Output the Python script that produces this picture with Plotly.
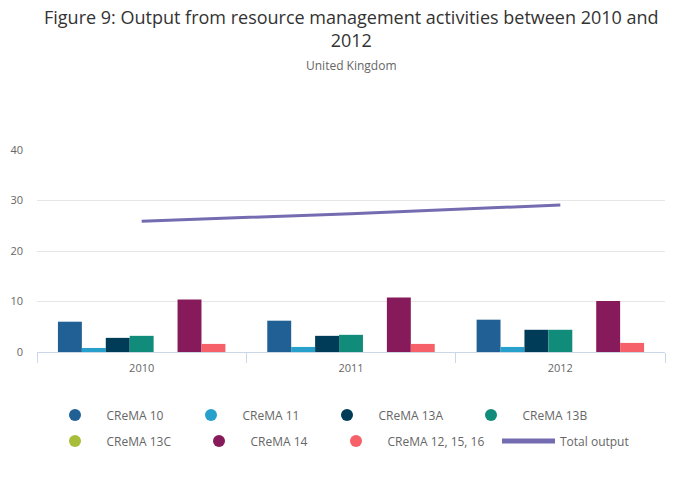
import plotly.graph_objects as go

years = ["2010", "2011", "2012"]
series_names = ["CReMA 10", "CReMA 11", "CReMA 13A", "CReMA 13B", "CReMA 13C", "CReMA 14", "CReMA 12, 15, 16"]
crema_10 = [6.0, 6.2, 6.4]
crema_11 = [0.8, 1.0, 1.0]
crema_13a = [2.8, 3.2, 4.4]
crema_13b = [3.2, 3.4, 4.4]
crema_13c = [None, None, None]
crema_14 = [10.4, 10.8, 10.1]
crema_12_15_16 = [1.6, 1.6, 1.8]
total_output = [25.9, 27.4, 29.1]

colors = ["#206095", "#27a0cc", "#003c57", "#118c7b", "#a8bd3a", "#871a5b", "#f66068"]
line_color = "#746cb1"

series_values = [crema_10, crema_11, crema_13a, crema_13b, crema_13c, crema_14, crema_12_15_16]

W, H = 692, 494          # page body has an 8px margin; keep the figure inside the window
OFF = 8

# legend item positions (page pixels): marker centre x, row y
legend_marker_x = [75, 211, 347, 491, 75, 219, 356]
legend_row_y = [415, 415, 415, 415, 441, 441, 441]
line_text_x, line_row_y = 560, 441
ITEMW = 53

fig = go.Figure()

legend_layouts = {}
for i, (name, col) in enumerate(zip(series_names, colors)):
    key = "legend" if i == 0 else f"legend{i + 1}"
    fig.add_trace(go.Scatter(x=[None], y=[None], mode="markers", name=name,
                             legend=key,
                             marker=dict(symbol="circle", size=11, color=col),
                             hoverinfo="skip"))
    lx = legend_marker_x[i] - OFF - (ITEMW + 10) / 2
    ly = legend_row_y[i] - OFF
    legend_layouts[key] = (lx, ly)

for name, vals, col in zip(series_names, series_values, colors):
    fig.add_trace(go.Bar(x=years, y=vals, name=name, marker=dict(color=col, line=dict(width=0)),
                         showlegend=False))

fig.add_trace(go.Scatter(x=years, y=total_output, mode="lines", name="Total output",
                         legend="legend8",
                         line=dict(color=line_color, width=3)))
legend_layouts["legend8"] = (line_text_x - OFF - (ITEMW + 10), line_row_y - OFF)

legend_cfg = {}
for key, (lx, ly) in legend_layouts.items():
    legend_cfg[key] = dict(orientation="h", xanchor="left", yanchor="middle",
                           xref="container", yref="container",
                           x=lx / W, y=1 - ly / H,
                           itemwidth=ITEMW,
                           font=dict(family="Open Sans", size=12, color="#666666"),
                           itemsizing="constant", bgcolor="rgba(0,0,0,0)",
                           borderwidth=0)

plot_top, plot_bottom = 150 - OFF, 352 - OFF
plot_h = plot_bottom - plot_top

fig.update_layout(
    width=W, height=H,
    paper_bgcolor="white", plot_bgcolor="white",
    font=dict(family="Open Sans", color="#666666", size=11),
    barmode="group", bargap=0.2, bargroupgap=0,
    margin=dict(l=37 - OFF, r=W - (665 - OFF), t=plot_top, b=H - plot_bottom, autoexpand=False),
    annotations=[
        dict(text="Figure 9: Output from resource management activities between 2010 and<br>2012",
             xref="paper", yref="paper", x=0.5, xanchor="center",
             y=1 + (plot_top - (29 - OFF)) / plot_h, yanchor="middle",
             showarrow=False, align="center",
             font=dict(family="Open Sans", size=18, color="#333333")),
        dict(text="United Kingdom", xref="paper", yref="paper",
             x=0.5, xanchor="center", y=1 + (plot_top - (65 - OFF)) / plot_h, yanchor="middle",
             showarrow=False, font=dict(family="Open Sans", size=12, color="#666666")),
    ],
    **legend_cfg,
)

fig.update_xaxes(type="category", showline=True, linecolor="#ccd6eb", linewidth=1,
                 ticks="outside", tickson="boundaries", ticklen=10, tickcolor="#ccd6eb",
                 showgrid=False, tickfont=dict(size=11, color="#666666"), automargin=False,
                 ticklabelstandoff=6)
fig.update_yaxes(range=[0, 40], tickvals=[0, 10, 20, 30, 40], showgrid=True,
                 gridcolor="#e6e6e6", zeroline=False, showline=False,
                 tickfont=dict(size=11, color="#666666"), ticks="", ticklabelstandoff=13,
                 automargin=False)

fig.write_html("out.html")
